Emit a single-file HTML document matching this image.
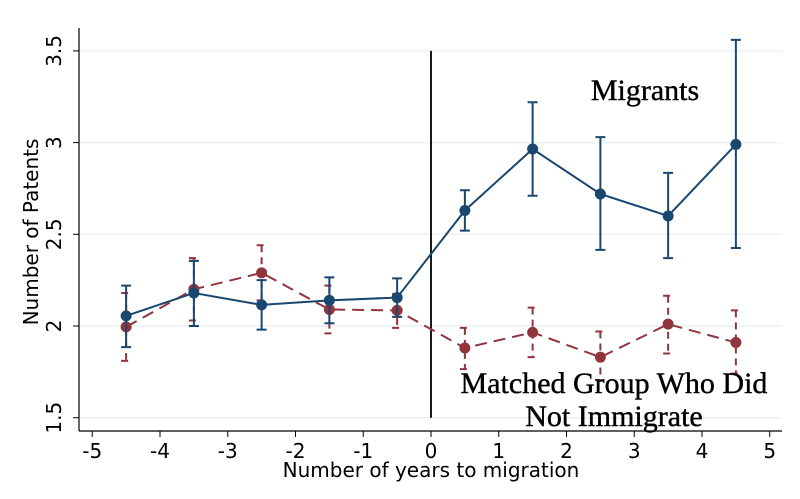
<!DOCTYPE html>
<html><head><meta charset="utf-8"><style>
html,body{margin:0;padding:0;background:#fff;}
svg text{font-family:"DejaVu Sans","Liberation Sans",sans-serif;}
.serif{font-family:"Liberation Serif",serif !important;}
</style></head><body>
<svg id="chart" width="800" height="494" viewBox="0 0 800 494" xmlns="http://www.w3.org/2000/svg">
<g id="grid"></g>
<g id="axes"></g>
<g id="series"></g>
<text class="serif" x="645" y="100" font-size="30" text-anchor="middle" stroke="#000" stroke-width="0.4">Migrants</text>
<text class="serif" x="614" y="393" font-size="30" text-anchor="middle" stroke="#000" stroke-width="0.4">Matched Group Who Did</text>
<text class="serif" x="614" y="426" font-size="30" text-anchor="middle" stroke="#000" stroke-width="0.4">Not Immigrate</text>
<text x="431" y="477" font-size="20" text-anchor="middle">Number of years to migration</text>
<text transform="translate(38,232) rotate(-90)" font-size="20" text-anchor="middle">Number of Patents</text>
</svg>
<script>
const xValues = [-4.5,-3.5,-2.5,-1.5,-0.5,0.5,1.5,2.5,3.5,4.5];
const migrantMean = [2.055,2.18,2.115,2.14,2.155,2.63,2.965,2.72,2.60,2.99];
const migrantHi = [2.22,2.355,2.25,2.265,2.26,2.74,3.22,3.03,2.835,3.56];
const migrantLo = [1.885,2.0,1.98,2.015,2.05,2.52,2.71,2.415,2.37,2.425];
const matchedMean = [1.995,2.2,2.29,2.09,2.085,1.88,1.965,1.83,2.01,1.91];
const matchedHi = [2.18,2.37,2.44,2.22,2.175,1.99,2.10,1.97,2.165,2.085];
const matchedLo = [1.81,2.03,2.14,1.96,1.99,1.765,1.83,1.705,1.85,1.74];
const xTicks = [-5,-4,-3,-2,-1,0,1,2,3,4,5];
const yTicks = [1.5,2,2.5,3,3.5];

const NS="http://www.w3.org/2000/svg";
const X = v => 431 + v*67.75;
const Y = v => 326 - (v-2)*183.4;
function mk(parent, tag, attrs){const e=document.createElementNS(NS,tag);for(const k in attrs)e.setAttribute(k,attrs[k]);parent.appendChild(e);return e;}
const grid=document.getElementById('grid'), axes=document.getElementById('axes'), ser=document.getElementById('series');

yTicks.forEach(t=>{
  const g=mk(grid,'line',{x1:79,x2:782,y1:Y(t),y2:Y(t),stroke:'#eaf2f3','stroke-width':1.5});
  
  
  const tk=mk(axes,'line',{x1:73,x2:79,y1:Y(t),y2:Y(t),stroke:'#000','stroke-width':1});
  
  
  const tx=mk(axes,'text',{transform:`translate(61,${Y(t)}) rotate(-90)`,'font-size':20,'text-anchor':'middle'});
  tx.textContent=String(t);
  
  
});
xTicks.forEach(t=>{
  const tk=mk(axes,'line',{x1:X(t),x2:X(t),y1:431,y2:437,stroke:'#000','stroke-width':1});
  
  
  const tx=mk(axes,'text',{x:X(t),y:458,'font-size':20,'text-anchor':'middle'});
  tx.textContent=String(t);
  
  
});
const ya=mk(axes,'line',{x1:79,x2:79,y1:28,y2:431,stroke:'#000','stroke-width':1.2});


const xa=mk(axes,'line',{x1:79,x2:782,y1:431,y2:431,stroke:'#000','stroke-width':1.2});


const vl=mk(axes,'line',{x1:X(0),x2:X(0),y1:Y(3.5),y2:Y(1.5),stroke:'#000','stroke-width':1.8});



function drawSeries(name,mean,hi,lo,color,dash){
  const g=mk(ser,'g',{});
  
  
  xValues.forEach((x,i)=>{
    const e=mk(g,'path',{d:`M${X(x)},${Y(hi[i])}V${Y(lo[i])}M${X(x)-5},${Y(hi[i])}H${X(x)+5}M${X(x)-5},${Y(lo[i])}H${X(x)+5}`,stroke:color,'stroke-width':2,fill:'none','stroke-dasharray':dash?'7,5':'none'});
    
    
  });
  const pl=mk(g,'polyline',{points:xValues.map((x,i)=>X(x)+','+Y(mean[i])).join(' '),stroke:color,'stroke-width':2,fill:'none','stroke-dasharray':dash?'12,7':'none'});
  
  
  xValues.forEach((x,i)=>{
    const c=mk(g,'circle',{cx:X(x),cy:Y(mean[i]),r:5.5,fill:color});
    
    
  });
}
drawSeries('matched',matchedMean,matchedHi,matchedLo,'#90353b',true);
drawSeries('migrants',migrantMean,migrantHi,migrantLo,'#1a476f',false);
</script>
</body></html>
